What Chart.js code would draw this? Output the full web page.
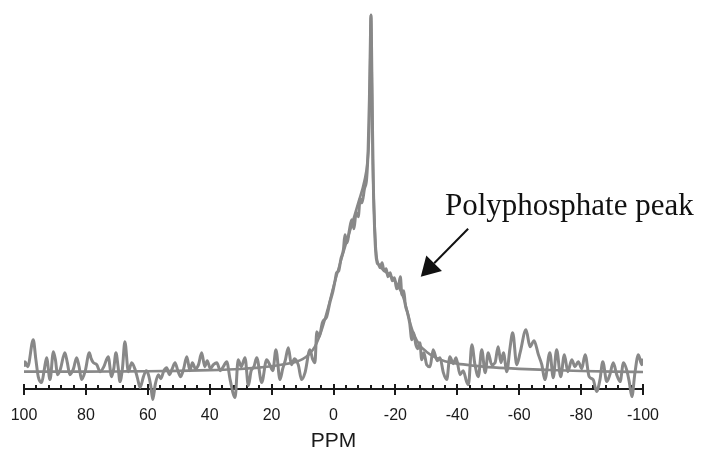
<!DOCTYPE html>
<html>
<head>
<meta charset="utf-8">
<script src="https://cdn.jsdelivr.net/npm/chart.js@4.4.1/dist/chart.umd.min.js"></script>
<style>
  html, body { margin: 0; padding: 0; background: #fff; }
  #wrap { width: 703px; height: 454px; }
</style>
</head>
<body>
<div id="wrap"><canvas id="nmr"></canvas></div>
<script>
// 31P NMR spectrum: measured trace + fitted curve, x axis in ppm (reversed)

const xTicks = [100, 80, 60, 40, 20, 0, -20, -40, -60, -80, -100];
const minorStep = 4;

// measured spectrum (ppm, intensity)
const dataPpm = [
  100, 99.7, 98.8, 97.0, 96.2, 95.4, 94.3, 93.5, 92.7, 91.6, 90.5, 89.8, 89.2, 88.2,
  86.8, 86.0, 85.2, 84.0, 83.0, 82.2, 81.4, 80.2, 78.9, 78.3, 77.6, 76.5, 75.4, 74.2,
  72.8, 71.7, 71.0, 70.3, 69.6, 69.0, 68.2, 67.4, 66.3, 65.2, 64.2, 63.3, 62.5, 61.4,
  60.5, 59.8, 59.0, 58.4, 57.6, 56.6, 55.8, 54.8, 53.9, 53.0, 52.1, 51.2, 50.3, 49.4,
  48.4, 47.4, 46.4, 45.6, 44.6, 43.6, 42.6, 41.6, 40.8, 39.8, 38.8, 37.7, 36.6, 35.6,
  34.5, 33.4, 31.8, 30.8, 29.8, 28.6, 27.5, 26.6, 25.7, 24.8, 23.2, 21.6, 20.6, 19.6,
  18.6, 17.3, 16.4, 15.6, 14.6, 13.6, 12.6, 11.4, 10.3, 9.2, 7.6, 6.8, 6.0, 5.4,
  4.6, 3.6, 2.2, 1.1, 0.3, -0.5, -1.0, -1.7, -2.4, -3.2, -3.7, -4.4, -5.1, -5.9,
  -6.6, -7.3, -8.0, -8.6, -9.2, -10.0, -10.7, -11.2, -11.6, -11.9, -12.1, -12.3, -12.6, -12.9,
  -13.3, -13.7, -14.1, -14.6, -15.1, -15.7, -16.3, -17.0, -17.6, -18.3, -19.0, -19.7, -20.4, -21.1,
  -21.6, -22.1, -22.7, -23.2, -23.9, -24.6, -25.3, -25.9, -26.6, -27.2, -27.9, -28.5, -29.2, -30.1,
  -31.2, -32.2, -33.5, -34.4, -35.5, -36.6, -37.6, -38.7, -39.6, -40.9, -41.9, -43.0, -43.6, -44.7,
  -45.7, -46.8, -47.9, -49.0, -50.0, -51.1, -52.2, -53.2, -54.1, -54.9, -56.0, -57.0, -57.9, -59.2,
  -60.3, -62.2, -63.5, -64.8, -66.2, -67.3, -68.3, -69.9, -71.0, -72.1, -73.4, -74.6, -75.7, -77.0,
  -78.0, -79.1, -80.2, -81.3, -82.6, -83.9, -85.0, -86.1, -87.0, -88.3, -89.3, -90.4, -91.5, -92.6,
  -93.7, -94.8, -95.6, -96.4, -97.4, -98.5, -99.6, -100
];
const dataInt = [
  22, 27, 22, 49, 30, 12, 6, 18, 31, 9, 37, 28, 14, 20,
  36, 26, 14, 20, 31, 22, 9, 18, 36, 30, 26, 24, 17, 22,
  32, 12, 20, 36, 22, 7, 20, 47, 17, 26, 20, 10, 1, 12,
  18, 14, 2, -11, 4, 14, 10, 18, 21, 14, 20, 26, 18, 12,
  20, 32, 18, 26, 20, 24, 36, 22, 28, 20, 24, 26, 18, 22,
  27, 9, -9, 29, 22, 31, 3, 18, 22, 31, 6, 29, 24, 18,
  39, 9, 20, 28, 41, 24, 30, 24, 9, 16, 39, 30, 26, 57,
  52, 66, 72, 87, 96, 108, 116, 118, 130, 139, 154, 146, 158, 169,
  160, 176, 172, 190, 186, 200, 210, 240, 290, 345, 374, 340, 260, 200,
  158, 134, 126, 124, 121, 126, 118, 120, 112, 116, 108, 111, 100, 104,
  112, 94, 98, 84, 76, 66, 49, 56, 44, 40, 46, 29, 36, 24,
  22, 39, 28, 31, 16, 9, 32, 25, 31, 14, 18, 7, 4, 44,
  24, 12, 39, 16, 36, 24, 26, 42, 26, 36, 17, 40, 56, 24,
  36, 59, 42, 48, 34, 24, 9, 36, 11, 39, 12, 34, 17, 29,
  22, 27, 20, 34, 12, 9, -3, 9, 27, 7, 14, 26, 14, 7,
  26, 18, 6, -8, 16, 34, 24, 30
];

// fitted curve (ppm, intensity)
const fitPpm = [
  100, 90, 80, 70, 60, 50, 40, 30, 25, 20, 16, 12, 10, 8, 6, 4, 2, 0, -2, -4,
  -6, -8, -10, -11, -11.5, -11.8, -12.1, -12.4, -12.7, -13, -13.5, -14, -15, -16, -18, -20,
  -22, -23, -24, -25, -26, -28, -30, -33, -36, -40, -45, -50, -60, -70, -80, -90, -100
];
const fitInt = [
  17, 17, 17, 17.2, 17.4, 17.8, 18.5, 19.7, 20.8, 22.4, 24.3, 27, 29.5, 34, 42, 57, 78, 102, 124, 145,
  165, 186, 208, 228, 255, 310, 374, 305, 225, 190, 150, 130, 123, 119, 114, 107,
  96, 87, 75, 63, 54, 43, 37, 31, 27.5, 25, 23, 21.5, 19.8, 18.6, 17.6, 17, 16.7
];

// annotation anchor, in data units
const note = { text: 'Polyphosphate peak', ppm: -36, int: 174, fromPpm: -43.5, fromInt: 160, tipPpm: -28.2, tipInt: 112 };

const lineColor = '#888888';

const toPoints = (xs, ys) => xs.map((v, i) => ({ x: v, y: ys[i] }));

const ppmAxis = {
  id: 'ppmAxis',
  beforeDatasetsDraw(chart) {
    const { ctx, scales: { x, y } } = chart;
    const y0 = Math.round(y.getPixelForValue(0));
    ctx.save();
    ctx.strokeStyle = '#1a1a1a';
    ctx.lineWidth = 2;
    ctx.beginPath();
    ctx.moveTo(x.getPixelForValue(100), y0);
    ctx.lineTo(x.getPixelForValue(-100), y0);
    for (let v = -100; v <= 100; v += minorStep) {
      const px = Math.round(x.getPixelForValue(v));
      if (xTicks.includes(v)) {
        ctx.moveTo(px, y0 - 5);
        ctx.lineTo(px, y0 + 6);
      } else {
        ctx.moveTo(px, y0 - 4);
        ctx.lineTo(px, y0);
      }
    }
    ctx.stroke();
    ctx.restore();
  }
};

const peakNote = {
  id: 'peakNote',
  afterDraw(chart) {
    const { ctx, scales: { x, y } } = chart;
    ctx.save();
    ctx.fillStyle = '#111';
    ctx.font = '31px "Liberation Serif", "DejaVu Serif", serif';
    ctx.textBaseline = 'alphabetic';
    ctx.fillText(note.text, x.getPixelForValue(note.ppm), y.getPixelForValue(note.int));

    const x1 = x.getPixelForValue(note.fromPpm), y1 = y.getPixelForValue(note.fromInt);
    const x2 = x.getPixelForValue(note.tipPpm), y2 = y.getPixelForValue(note.tipInt);
    const ang = Math.atan2(y2 - y1, x2 - x1);
    const headLen = 19, headHalf = 11;
    const bx = x2 - headLen * Math.cos(ang), by = y2 - headLen * Math.sin(ang);
    ctx.strokeStyle = '#111';
    ctx.lineWidth = 2;
    ctx.beginPath();
    ctx.moveTo(x1, y1);
    ctx.lineTo(bx, by);
    ctx.stroke();
    ctx.beginPath();
    ctx.moveTo(x2, y2);
    ctx.lineTo(bx + headHalf * Math.sin(ang), by - headHalf * Math.cos(ang));
    ctx.lineTo(bx - headHalf * Math.sin(ang), by + headHalf * Math.cos(ang));
    ctx.closePath();
    ctx.fill();
    ctx.restore();
  }
};

new Chart(document.getElementById('nmr'), {
  type: 'line',
  data: {
    datasets: [
      {
        label: 'Spectrum',
        data: toPoints(dataPpm, dataInt),
        borderColor: lineColor,
        borderWidth: 3,
        pointRadius: 0,
        cubicInterpolationMode: 'monotone'
      },
      {
        label: 'Fit',
        data: toPoints(fitPpm, fitInt),
        borderColor: lineColor,
        borderWidth: 2.6,
        pointRadius: 0,
        cubicInterpolationMode: 'monotone'
      }
    ]
  },
  options: {
    responsive: true,
    maintainAspectRatio: false,
    animation: false,
    events: [],
    layout: { padding: { left: 24, right: 60, top: 9, bottom: 0 } },
    plugins: { legend: { display: false }, tooltip: { enabled: false } },
    scales: {
      x: {
        type: 'linear',
        reverse: true,
        min: -100,
        max: 100,
        afterBuildTicks: (axis) => { axis.ticks = xTicks.map(v => ({ value: v })); },
        grid: { display: false, drawTicks: false },
        border: { display: false },
        ticks: {
          padding: 2,
          color: '#1a1a1a',
          font: { family: '"Liberation Sans", Arial, sans-serif', size: 16 },
          maxRotation: 0
        },
        title: {
          display: true,
          text: 'PPM',
          color: '#1a1a1a',
          font: { family: '"Liberation Sans", Arial, sans-serif', size: 21 },
          padding: { top: 2, bottom: 0 }
        }
      },
      y: {
        display: false,
        min: -15,
        max: 380
      }
    }
  },
  plugins: [ppmAxis, peakNote]
});
</script>
</body>
</html>
